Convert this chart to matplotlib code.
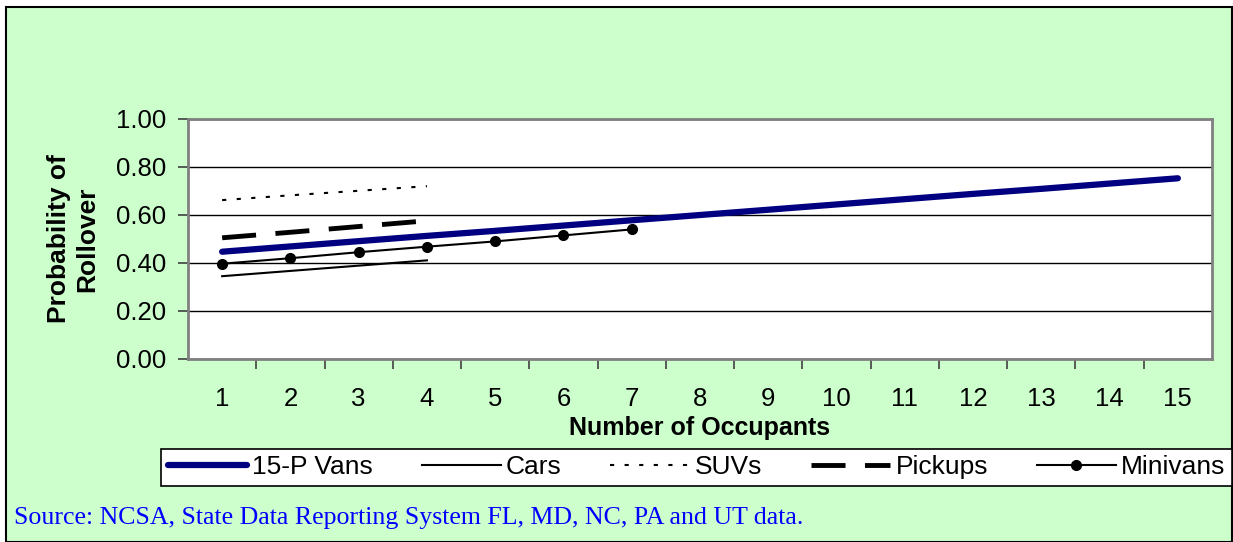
import matplotlib.pyplot as plt
from matplotlib.patches import Rectangle
import numpy as np

plt.rcParams['font.family'] = ['Liberation Sans', 'DejaVu Sans']

# data
occupants = list(range(1, 16))
vans_15p = [0.447, 0.469, 0.491, 0.513, 0.534, 0.556, 0.578, 0.600,
            0.622, 0.644, 0.666, 0.688, 0.709, 0.731, 0.753]
cars = [0.345, 0.367, 0.389, 0.411]
suvs = [0.662, 0.682, 0.701, 0.720]
pickups = [0.505, 0.528, 0.552, 0.576]
minivans = [0.397, 0.420, 0.445, 0.468, 0.490, 0.515, 0.540]

W, H = 1233, 542
fig = plt.figure(figsize=(W / 100, H / 100), dpi=100, facecolor='white')

# green chart area with black border
bg = Rectangle((6 / W, 0), 1226 / W, 1 - 7 / H, transform=fig.transFigure,
               facecolor='#CCFFCC', edgecolor='black', linewidth=1.5, zorder=-10)
fig.patches.append(bg)

ax = fig.add_axes([188 / W, (H - 359) / H, 1024 / W, 240 / H])
ax.set_facecolor('white')

ax.plot(occupants, vans_15p, color='#000080', linewidth=4.5, solid_capstyle='round',
        label='15-P Vans', zorder=3)
ax.plot(occupants[:4], cars, color='black', linewidth=1.5, label='Cars')
ax.plot(occupants[:4], suvs, color='black', linewidth=1.5, dashes=(2, 5), label='SUVs')
ax.plot(occupants[:4], pickups, color='black', linewidth=3.5, dashes=(7, 4), label='Pickups')
ax.plot(occupants[:7], minivans, color='black', linewidth=1.5, marker='o', markersize=7,
        label='Minivans')

ax.set_xlim(0.5, 15.5)
ax.set_ylim(0, 1.0)
ax.set_yticks(np.arange(0, 1.01, 0.2))
ax.set_yticklabels([f'{v:.2f}' for v in np.arange(0, 1.01, 0.2)])
ax.set_xticks(occupants)
ax.set_xticks(np.arange(1.5, 15.5, 1), minor=True)
ax.tick_params(axis='x', which='major', length=0, pad=20, labelsize=18.5)
ax.tick_params(axis='x', which='minor', length=7, width=1.2, color='#404040', direction='out')
ax.tick_params(axis='y', length=7, width=1.2, color='#404040', direction='out', pad=9, labelsize=18.5)
ax.grid(axis='y', color='black', linewidth=1)
ax.set_axisbelow(True)
for s in ax.spines.values():
    s.set_color('#808080')
    s.set_linewidth(2)

ax.set_xlabel('Number of Occupants', fontsize=18, fontweight='bold', labelpad=4)
ax.set_ylabel('Probability of\nRollover', fontsize=19, fontweight='bold', labelpad=12,
              linespacing=1.2)

leg = fig.legend(loc='lower left', bbox_to_anchor=(161 / W, (H - 486) / H, 1071 / W, 40 / H),
                 mode='expand', ncol=5, fontsize=19, handlelength=3.0, handletextpad=0.2,
                 frameon=True, fancybox=False, borderpad=0.25, borderaxespad=0,
                 framealpha=1, facecolor='white')
leg.get_frame().set_edgecolor('black')
leg.get_frame().set_linewidth(1.2)

fig.text(14 / W, (H - 524) / H, 'Source: NCSA, State Data Reporting System FL, MD, NC, PA and UT data.',
         color='#0000FF', fontsize=18.6, family='Liberation Serif')

fig.savefig('out.png', dpi=100)
